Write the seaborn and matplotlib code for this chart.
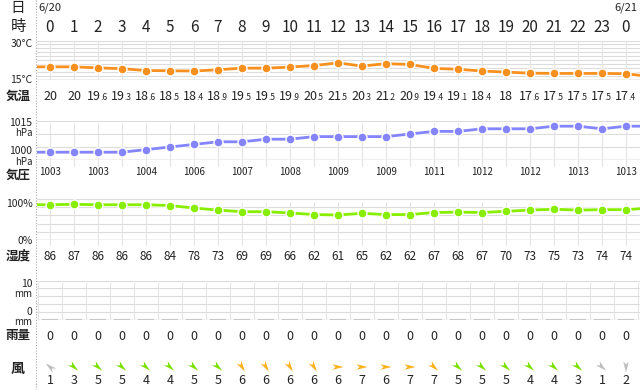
import numpy as np
import pandas as pd
import seaborn as sns
import matplotlib.pyplot as plt
import matplotlib.patheffects as pe
import matplotlib.transforms as mtransforms
from matplotlib.path import Path

# hourly data, 6/20 0:00 -> 6/21 0:00
hours = [str(h) for h in range(24)] + ['0']
temps = [20, 20, 19.6, 19.3, 18.6, 18.5, 18.4, 18.9, 19.5, 19.5, 19.9, 20.5, 21.5,
         20.3, 21.2, 20.9, 19.4, 19.1, 18.4, 18, 17.6, 17.5, 17.5, 17.5, 17.4]
temp_prev, temp_next = 20.0, 16.3
pressure = [1003, 1003, 1003, 1003, 1004, 1005, 1006, 1007, 1007, 1008, 1008, 1009, 1009,
            1009, 1009, 1010, 1011, 1011, 1012, 1012, 1012, 1013, 1013, 1012, 1013]
pres_prev, pres_next = 1003, 1013
humidity = [86, 87, 86, 86, 86, 84, 78, 73, 69, 69, 66, 62, 61, 65, 62, 62, 67, 68, 67,
            70, 73, 75, 73, 74, 74]
hum_prev, hum_next = 86, 78
rain = [0] * 25
wind_speed = [1, 3, 5, 5, 4, 4, 5, 5, 6, 6, 6, 6, 6, 7, 6, 7, 7, 5, 5, 5, 4, 4, 3, 1, 2]
wind_dir = ['南東', '北西', '北西', '北西', '北西', '北西', '北西', '北西', '北北西', '北北西',
            '北北西', '北北西', '西', '西', '西', '西', '北西', '北西', '北西', '北西', '北西',
            '北西', '北西', '北西', '北']

sns.set_style('white')
plt.rcParams['font.family'] = ['Noto Sans CJK JP', 'DejaVu Sans']

W, H = 640, 390
fig = plt.figure(figsize=(6.4, 3.9), dpi=100)
X0, X1 = 37, 640
xlim = ((X0 - 50) / 24, (X1 - 50) / 24)
idx = np.arange(25)
ext = np.arange(-1, 26)

overlay = fig.add_axes([0, 0, 1, 1])
overlay.set_xlim(0, W)
overlay.set_ylim(H, 0)
overlay.axis('off')


def panel(y0, y1):
    ax = fig.add_axes([X0 / W, 1 - y1 / H, (X1 - X0) / W, (y1 - y0) / H])
    ax.set_xlim(*xlim)
    ax.axis('off')
    return ax


def hgrid(ax, levels, base):
    for v in levels:
        ax.axhline(v, color='#dcdcdc', lw=0.8, zorder=0)
    ax.axhline(base, color='#b4b4b4', lw=1.0, zorder=0)


def series(ax, vals, first, last, color):
    sns.lineplot(x=ext, y=[first] + vals + [last], ax=ax, color=color, lw=2,
                 path_effects=[pe.withStroke(linewidth=3.5, foreground='white')], zorder=3)
    sns.scatterplot(x=idx, y=vals, ax=ax, color=color, s=42, edgecolor='white',
                    linewidth=1, zorder=4)
    ax.set_xlim(*xlim)


GREY = '#222222'

# temperature
ax_t = panel(40.5, 80)
ax_t.set_ylim(15, 30)
hgrid(ax_t, np.arange(15, 30.1, 1.5), 15)
for i in idx:
    ax_t.axvline(i, ymin=0, ymax=0.95, color='#e4e4e4', lw=0.8, zorder=0)
series(ax_t, temps, temp_prev, temp_next, '#f7901e')

# pressure
ax_p = panel(121, 160)
ax_p.set_ylim(1000, 1015)
hgrid(ax_p, [1005, 1010, 1015], 1000)
for i in idx:
    ax_p.axvline(i, ymin=-0.15, ymax=0.95, color='#e4e4e4', lw=0.8, zorder=0, clip_on=False)
series(ax_p, pressure, pres_prev, pres_next, '#8484ff')

# humidity
ax_h = panel(199, 240)
ax_h.set_ylim(0, 100)
hgrid(ax_h, [20, 40, 60, 80, 100], 0)
for i in idx:
    ax_h.axvline(i, ymin=-0.12, ymax=0.9, color='#e4e4e4', lw=0.8, zorder=0, clip_on=False)
series(ax_h, humidity, hum_prev, hum_next, '#88ee00')

# rain
ax_r = panel(280.5, 320)
ax_r.set_ylim(0, 10)
hgrid(ax_r, [2, 4, 6, 8, 10], 0)
for i in np.arange(-0.5, 25):
    ax_r.axvline(i, ymin=0, ymax=0.93, color='#e4e4e4', lw=0.8, zorder=0)
ax_r.bar(idx, rain, width=0.7, color='#c8c8c8', edgecolor='#c8c8c8', linewidth=1.5, zorder=2)
ax_r.set_xlim(*xlim)

# wind
ax_w = panel(358, 376)
ax_w.set_ylim(-1, 1)
angle_of = {'北': -90, '北北西': -58, '北西': -42, '西北西': -20, '西': 0, '南東': 140}
head = np.array([[1, 0], [-1, 0.5], [-0.45, 0], [-1, -0.5], [1, 0]])


def arrow(deg):
    a = np.deg2rad(deg)
    r = np.array([[np.cos(a), -np.sin(a)], [np.sin(a), np.cos(a)]])
    verts = np.vstack([head @ r.T, [[1.6, 1.6]]])
    codes = [Path.MOVETO, Path.LINETO, Path.LINETO, Path.LINETO, Path.CLOSEPOLY, Path.MOVETO]
    return Path(verts, codes)


wind_class = ['弱' if s <= 2 else ('中' if s <= 5 else '強') for s in wind_speed]
wdf = pd.DataFrame({'x': idx, 'y': 0, 'dir': wind_dir, 'cls': wind_class})
sns.scatterplot(data=wdf, x='x', y='y', hue='cls', style='dir', ax=ax_w,
                palette={'弱': '#bdbdbd', '中': '#7ee000', '強': '#f8b11c'},
                markers={d: arrow(angle_of[d]) for d in set(wind_dir)},
                s=165, linewidth=0, legend=False)
ax_w.set_xlim(*xlim)
ax_w.axis('off')

# texts
overlay.axvline(36, color='#aaaaaa', lw=0.8, ls=(0, (1, 1.5)))
tr = mtransforms.blended_transform_factory(ax_t.transData, overlay.transData)
tr_o = mtransforms.offset_copy(tr, fig=fig, x=3, units='dots')
tr_d = mtransforms.offset_copy(tr, fig=fig, x=2, units='dots')


def label(y, s, size=9, bold=True):
    overlay.text(18, y, s, ha='center', va='center', fontsize=size, color=GREY,
                 fontweight='bold' if bold else 'normal')


def ylab(y, s, size=7.5):
    overlay.text(32.5, y, s, ha='right', va='center', fontsize=size, color=GREY,
                 linespacing=0.9)


label(8, '日', 10.5, False)
label(27, '時', 11, False)
label(96, '気温')
label(175, '気圧')
label(256, '湿度')
label(336, '雨量')
label(369, '風', 10)

ylab(44, '30°C')
ylab(80, '15°C')
ylab(123, '1015')
ylab(133.5, 'hPa', 7)
ylab(151.5, '1000')
ylab(162, 'hPa', 7)
ylab(204, '100%')
ylab(241, '0%')
ylab(284, '10')
ylab(294, 'mm', 7)
ylab(312, '0')
ylab(322, 'mm', 7)

overlay.text(0, 8, '6/20', transform=tr, ha='center', va='center', fontsize=8, color=GREY)
overlay.text(24, 8, '6/21', transform=tr, ha='center', va='center', fontsize=8, color=GREY)

for i in idx:
    overlay.text(i, 27, hours[i], transform=tr, ha='center', va='center', fontsize=11,
                 color=GREY)
    t = temps[i]
    if float(t).is_integer():
        overlay.text(i, 100.5, f'{int(t)}', transform=tr, ha='center', va='baseline',
                     fontsize=9, color=GREY)
    else:
        whole, dec = f'{t:.1f}'.split('.')
        overlay.text(i, 100.5, whole, transform=tr_o, ha='right', va='baseline',
                     fontsize=9, color=GREY)
        overlay.text(i, 100.5, '.' + dec, transform=tr_d, ha='left', va='baseline',
                     fontsize=6, color=GREY)
    if i % 2 == 0:
        overlay.text(i, 172, f'{pressure[i]}', transform=tr, ha='center', va='center',
                     fontsize=7, color=GREY)
    overlay.text(i, 256, f'{humidity[i]}', transform=tr, ha='center', va='center',
                 fontsize=8.5, color=GREY)
    overlay.text(i, 336, f'{rain[i]}', transform=tr, ha='center', va='center',
                 fontsize=9, color=GREY)
    overlay.text(i, 381, f'{wind_speed[i]}', transform=tr, ha='center', va='center',
                 fontsize=9, color=GREY)

fig.savefig('out.png', dpi=100)
